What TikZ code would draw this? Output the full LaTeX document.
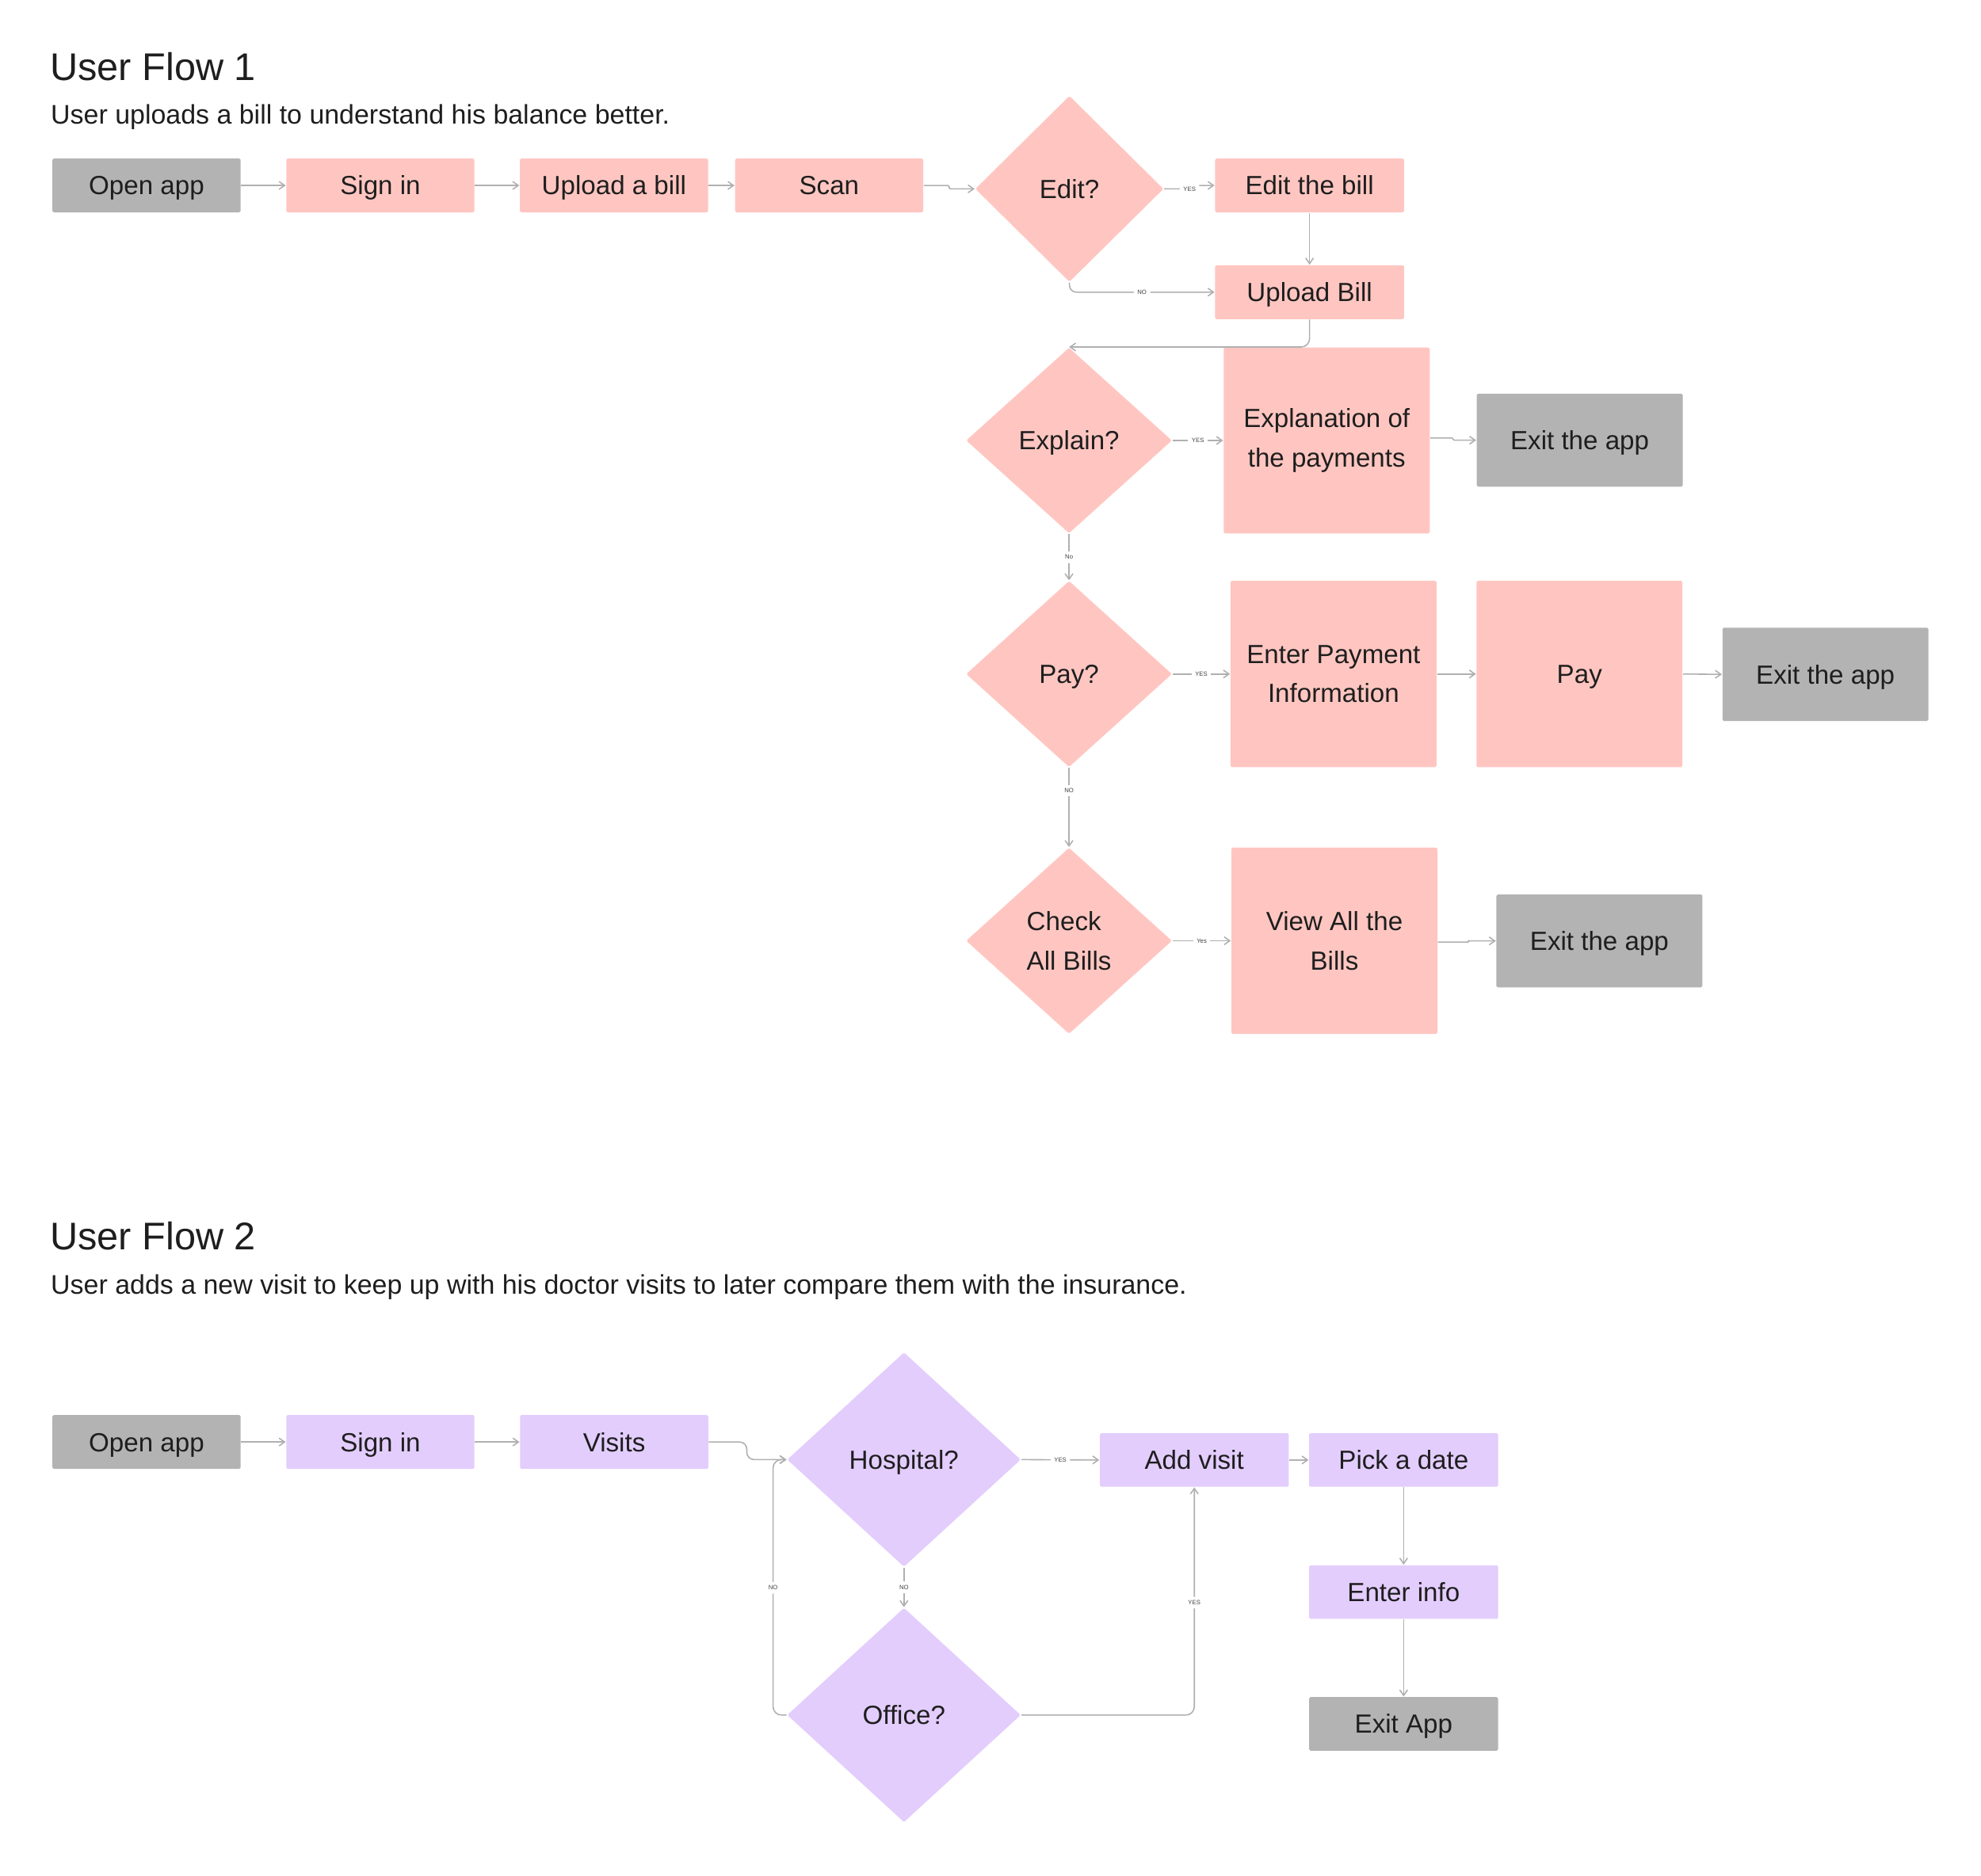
\documentclass[tikz,border=0pt]{standalone}
\usepackage{fontspec}
\setmainfont{Liberation Sans}
\usetikzlibrary{arrows.meta,shapes.geometric}
\definecolor{pinkc}{RGB}{255,198,193}
\definecolor{lavc}{RGB}{227,205,253}
\definecolor{grayc}{RGB}{179,179,179}
\definecolor{linec}{RGB}{176,176,176}
\definecolor{txtc}{RGB}{30,30,30}
\newcommand\upx{0.016cm}
\begin{document}
\begin{tikzpicture}[x=0.016cm,y=-0.016cm,
  every node/.style={text=txtc},
  boxtext/.style={font=\fontsize{9.43pt}{14.06pt}\selectfont, align=center},
  captext/.style={text height=6.75pt, text depth=0pt},
  rbox/.style 2 args={rectangle, rounded corners=0.5pt, inner sep=0pt, boxtext, minimum width=#1*\upx, minimum height=#2*\upx},
  dbox/.style 2 args={diamond, rounded corners=0.5pt, inner sep=0pt, boxtext, minimum width=#1*\upx, minimum height=#2*\upx},
  pinkb/.style={fill=pinkc}, lavb/.style={fill=lavc}, grayb/.style={fill=grayc},
  conn/.style={draw=linec, line width=0.45pt, -{Straight Barb[length=2pt,width=2.8pt]}},
  lbl/.style={fill=white, text=txtc!85, font=\fontsize{2.2pt}{2.6pt}\selectfont, inner xsep=1.3pt, inner ysep=1.3pt},
  flowtitle/.style={anchor=base west, inner sep=0pt, font=\fontsize{13.85pt}{16pt}\selectfont},
  flowsub/.style={anchor=base west, inner sep=0pt, font=\fontsize{9.66pt}{12pt}\selectfont}
]
\fill[white] (0,0) rectangle (1562.5,1479.4);
\useasboundingbox (0,0) rectangle (1562.5,1479.4);

% ---------------- User Flow 1 ----------------
\node[flowtitle] (t1) at (39.2,63.5) {User Flow 1};
\node[flowsub] (st1) at (39.7,97.9) {User uploads a bill to understand his balance better.};

\node[rbox={148.4}{42.5}, grayb, captext] (o1) at (115.6,146.3) {Open app};
\node[rbox={148.4}{42.5}, pinkb, captext] (s1) at (300,146.3) {Sign in};
\node[rbox={148.4}{42.5}, pinkb, captext] (u1) at (484.3,146.3) {Upload a bill};
\node[rbox={148.4}{42.5}, pinkb, captext] (sc1) at (654,146.3) {Scan};
\node[dbox={148.6}{147}, pinkb, captext] (ed) at (843.5,149) {Edit?};
\node[rbox={149}{42.5}, pinkb, captext] (eb) at (1032.9,146.3) {Edit the bill};
\node[rbox={149}{42.5}, pinkb, captext] (ub) at (1032.9,230.5) {Upload Bill};

\node[dbox={162.5}{146.6}, pinkb, captext] (ex) at (843.2,347.5) {Explain?};
\node[rbox={162.5}{146.6}, pinkb] (epay) at (1046.4,347.5) {Explanation of\\the payments};
\node[rbox={162.5}{73.3}, grayb, captext] (x1) at (1246,347.3) {Exit the app};

\node[dbox={162.5}{147}, pinkb, captext] (py) at (843.2,531.75) {Pay?};
\node[rbox={162.4}{147}, pinkb] (ep) at (1051.8,531.75) {Enter Payment\\Information};
\node[rbox={162.4}{147}, pinkb, captext] (pb) at (1245.8,531.75) {Pay};
\node[rbox={162.4}{73.6}, grayb, captext] (x2) at (1439.8,532) {Exit the app};

\node[dbox={162.5}{147}, pinkb, align=left] (ck) at (843.2,742.2) {Check\\All Bills};
\node[rbox={162.5}{147}, pinkb] (vb) at (1052.5,742.2) {View All the\\Bills};
\node[rbox={162.4}{73.3}, grayb, captext] (x3) at (1261.5,742.3) {Exit the app};

\draw[conn] (o1.east) -- (s1.west);
\draw[conn] (s1.east) -- (u1.west);
\draw[conn] (u1.east) -- (sc1.west);
\draw[conn, rounded corners=0.4pt] (sc1.east) -- ++(20,0) |- (ed.west);
\draw[conn, rounded corners=0.4pt] (ed.east) -- ++(20,0) node[lbl]{YES} |- (eb.west);
\draw[conn] (eb.south) -- (ub.north);
\draw[conn, rounded corners=2.5pt] (ed.south) |- node[lbl, pos=0.75]{NO} (ub.west);
\draw[conn, rounded corners=3pt] (ub.south) |- (ex.north);
\draw[conn] (ex.east) -- node[lbl]{YES} (epay.west);
\draw[conn, rounded corners=0.4pt] ([yshift=0.9pt]epay.east) -- ++(18,0) |- (x1.west);
\draw[conn] (ex.south) -- node[lbl]{No} (py.north);
\draw[conn] (py.east) -- node[lbl]{YES} (ep.west);
\draw[conn] (ep.east) -- (pb.west);
\draw[conn] (pb.east) -- (x2.west);
\draw[conn] (py.south) -- node[lbl, pos=0.29]{NO} (ck.north);
\draw[conn] (ck.east) -- node[lbl]{Yes} (vb.west);
\draw[conn, rounded corners=0.3pt] ([yshift=-0.45pt]vb.east) -- ++(24,0) |- (x3.west);

% ---------------- User Flow 2 ----------------
\node[flowtitle] (t2) at (39.2,986) {User Flow 2};
\node[flowsub] (st2) at (39.7,1020.8) {User adds a new visit to keep up with his doctor visits to later compare them with the insurance.};

\node[rbox={148.4}{42.6}, grayb, captext] (o2) at (115.6,1137.6) {Open app};
\node[rbox={148.4}{42.6}, lavb, captext] (s2) at (300,1137.6) {Sign in};
\node[rbox={148.4}{42.6}, lavb, captext] (v2) at (484.4,1137.6) {Visits};
\node[dbox={184.4}{169.3}, lavb, captext] (ho) at (713,1151.5) {Hospital?};
\node[dbox={184.4}{169.3}, lavb, captext] (of) at (713,1353) {Office?};
\node[rbox={149}{42.3}, lavb, captext] (av) at (942,1151.8) {Add visit};
\node[rbox={149}{42.3}, lavb, captext] (pd) at (1107.1,1151.8) {Pick a date};
\node[rbox={149}{42.3}, lavb, captext] (ei) at (1107.1,1256) {Enter info};
\node[rbox={149}{42.3}, grayb, captext] (xa) at (1107.1,1360) {Exit App};

\draw[conn] (o2.east) -- (s2.west);
\draw[conn] (s2.east) -- (v2.west);
\draw[conn, rounded corners=2.6pt] (v2.east) -- ++(30,0) |- (ho.west);
\draw[conn] (ho.east) -- node[lbl]{YES} (av.west);
\draw[conn] (av.east) -- (pd.west);
\draw[conn] (pd.south) -- (ei.north);
\draw[conn] (ei.south) -- (xa.north);
\draw[conn] (ho.south) -- node[lbl]{NO} (of.north);
\draw[conn, rounded corners=3pt] (of.west) -- ++(-10.6,0) |- node[lbl, pos=0.249]{NO} (ho.west);
\draw[conn, rounded corners=3pt] (of.east) -| node[lbl, pos=0.747]{YES} (av.south);
\end{tikzpicture}
\end{document}
